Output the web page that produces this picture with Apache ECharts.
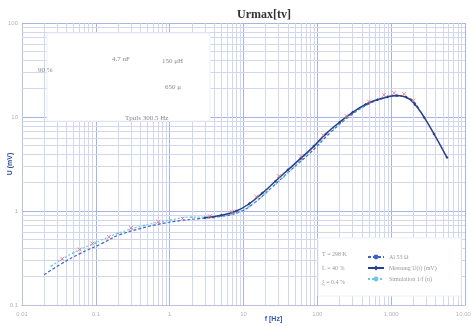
<!DOCTYPE html>
<html>
<head>
<meta charset="utf-8">
<script src="https://cdn.jsdelivr.net/npm/echarts@6/dist/echarts.min.js"></script>
<style>
  html, body { margin: 0; padding: 0; background: #fff; }
  #chart { width: 471px; height: 326px; }
</style>
</head>
<body>
<div id="chart"></div>
<script>
// measured curve (dark, diamonds)
const freqMeas = [3, 5, 8, 12, 18, 27, 40, 60, 90, 130, 200, 300, 450, 650, 900, 1200, 1600, 2100, 2800, 3800, 5700]
const valMeas = [0.85, 0.90, 1.0, 1.2, 1.55, 2.07, 2.74, 3.65, 4.9, 6.6, 8.8, 11.2, 13.6, 15.3, 16.4, 16.9, 16.2, 13.6, 9.9, 6.6, 3.7]
// dashed blue curve
const freqSim = [0.02, 0.033, 0.06, 0.12, 0.2, 0.4, 0.75, 1.4, 2.5, 4.7, 9, 14, 23, 42, 80, 150, 270, 500, 820, 1200, 1800, 2400]
const valSim = [0.21, 0.27, 0.35, 0.45, 0.55, 0.65, 0.73, 0.79, 0.83, 0.87, 0.98, 1.22, 1.72, 2.65, 4.15, 6.8, 10.1, 13.8, 15.9, 16.7, 15.6, 12.0]
// light cyan dashed curve
const freqCyan = [0.025, 0.05, 0.1, 0.2, 0.45, 1, 2, 3.5, 5, 7, 12, 20, 35, 60, 110, 200, 400, 700, 1100]
const valCyan = [0.26, 0.36, 0.46, 0.58, 0.70, 0.80, 0.86, 0.86, 0.88, 0.93, 1.12, 1.55, 2.3, 3.5, 5.6, 8.6, 12.6, 15.6, 16.8]
// red crosses
const freqCross = [0.035, 0.06, 0.09, 0.15, 0.3, 0.7, 1.5, 3.5, 7, 15, 30, 60, 120, 250, 500, 800, 1100, 1500, 2000]
const valCross = [0.31, 0.39, 0.45, 0.53, 0.66, 0.77, 0.83, 0.88, 0.98, 1.42, 2.35, 3.8, 6.4, 10.2, 14.6, 17.2, 18.0, 17.6, 15.0]

const legendNames = ['Al 53 Ω', 'Messung U(t) (mV)', 'Simulation 1/f (n)']
const xTicks = [0.01, 0.1, 1, 10, 100, 1000, 10000]
const yTicks = [0.1, 1, 10, 100]

function pairs(xs, ys){
  return xs.map((x, i) => [x, ys[i]])
}

// log paper lines 2..9 inside each decade
const minorX = []
xTicks.slice(0, -1).forEach(d => {
  for (let k = 2; k <= 9; k++) minorX.push({ xAxis: +(d * k).toPrecision(3) })
})
const minorY = []
yTicks.slice(0, -1).forEach(d => {
  for (let k = 2; k <= 9; k++) minorY.push({ yAxis: +(d * k).toPrecision(3) })
})

const noteStyle = { fontSize: 7, fill: '#888', fontFamily: 'Liberation Serif' }
const legStyle = { fontSize: 6, fill: '#999', fontFamily: 'Liberation Serif' }

const chart = echarts.init(document.getElementById('chart'))
const option = {
  animation: false,
  backgroundColor: '#fff',
  title: {
    text: 'Urmax[tv]',
    left: 232,
    top: 4,
    textStyle: { fontFamily: 'Liberation Serif', fontWeight: 'bold', fontSize: 12, color: '#333' }
  },
  grid: { left: 22, right: 6, top: 23, bottom: 21, outerBoundsMode: 'none' },
  legend: {
    data: legendNames,
    orient: 'vertical',
    left: 362,
    top: 249,
    z: 200,
    itemGap: 5,
    itemWidth: 16,
    itemHeight: 6,
    textStyle: { fontSize: 6, color: '#999', fontFamily: 'Liberation Serif' }
  },
  xAxis: {
    type: 'log',
    logBase: 10,
    min: 0.01,
    max: 10000,
    name: 'f [Hz]',
    nameLocation: 'middle',
    nameGap: 11,
    nameMoveOverlap: false,
    nameTextStyle: { color: '#3558b0', fontSize: 7, fontWeight: 'bold', padding: [0, 0, 0, 60] },
    axisLine: { lineStyle: { color: '#b9c2dd' } },
    axisTick: { show: false },
    axisLabel: { fontSize: 6, color: '#b5b5b5', margin: 6 },
    splitLine: { show: true, lineStyle: { color: '#a8b4de', width: 1 } }
  },
  yAxis: {
    type: 'log',
    logBase: 10,
    min: 0.1,
    max: 100,
    name: 'U (mV)',
    nameLocation: 'middle',
    nameGap: 8,
    nameMoveOverlap: false,
    nameTextStyle: { color: '#2b4a9a', fontSize: 7, fontWeight: 'bold' },
    axisLine: { show: true, lineStyle: { color: '#b9c2dd' } },
    axisTick: { show: false },
    axisLabel: { fontSize: 6, color: '#b5b5b5', margin: 4 },
    splitLine: { show: true, lineStyle: { color: '#a8b4de', width: 1 } }
  },
  graphic: [
    { type: 'rect', z: 100, shape: { x: 47, y: 33, width: 163, height: 88 }, style: { fill: '#fff', stroke: '#eef0f6' } },
    { type: 'text', z: 101, left: 38, top: 67, style: Object.assign({ text: '90 %' }, noteStyle) },
    { type: 'text', z: 101, left: 112, top: 56, style: Object.assign({ text: '4.7 nF' }, noteStyle) },
    { type: 'text', z: 101, left: 162, top: 58, style: Object.assign({ text: '150 μH' }, noteStyle) },
    { type: 'text', z: 101, left: 165, top: 84, style: Object.assign({ text: '650 μ' }, noteStyle) },
    { type: 'text', z: 101, left: 125, top: 115, style: Object.assign({ text: 'Tpuls 300.5 Hz' }, noteStyle) },
    { type: 'rect', z: 100, shape: { x: 318, y: 238, width: 143, height: 58 }, style: { fill: '#fff', stroke: '#eef0f6' } },
    { type: 'text', z: 101, left: 322, top: 251, style: Object.assign({ text: 'T = 298 K' }, legStyle) },
    { type: 'text', z: 101, left: 322, top: 265, style: Object.assign({ text: 'L = 40 %' }, legStyle) },
    { type: 'text', z: 101, left: 322, top: 279, style: Object.assign({ text: 'ξ = 0.4 %' }, legStyle) }
  ],
  series: [
    {
      name: 'paper',
      type: 'line',
      data: [[1, 1]],
      symbol: 'none',
      lineStyle: { opacity: 0 },
      silent: true,
      z: 1,
      markLine: {
        silent: true,
        symbol: 'none',
        label: { show: false },
        lineStyle: { color: '#d0d7ef', width: 1, type: 'solid' },
        data: minorX.concat(minorY)
      }
    },
    {
      name: legendNames[0],
      type: 'line',
      data: pairs(freqSim, valSim),
      symbol: 'none',
      smooth: true,
      z: 10,
      lineStyle: { color: '#3f63c8', width: 1.2, type: [3, 2] },
      itemStyle: { color: '#3f63c8' }
    },
    {
      name: legendNames[1],
      type: 'line',
      data: pairs(freqMeas, valMeas),
      symbol: 'diamond',
      symbolSize: 3,
      smooth: true,
      z: 11,
      lineStyle: { color: '#2c3f86', width: 1.5 },
      itemStyle: { color: '#2c3f86' }
    },
    {
      name: legendNames[2],
      type: 'line',
      data: pairs(freqCyan, valCyan),
      symbol: 'circle',
      symbolSize: 2,
      smooth: true,
      z: 10,
      lineStyle: { color: '#6cc6e2', width: 1.2, type: [2, 2] },
      itemStyle: { color: '#6cc6e2' }
    },
    {
      name: 'cross',
      type: 'scatter',
      data: pairs(freqCross, valCross),
      symbol: 'path://M0,0L10,10M10,0L0,10',
      symbolSize: 4,
      z: 12,
      itemStyle: { color: 'none', borderColor: '#e5707c', borderWidth: 1 }
    }
  ]
}
chart.setOption(option)
</script>
</body>
</html>
